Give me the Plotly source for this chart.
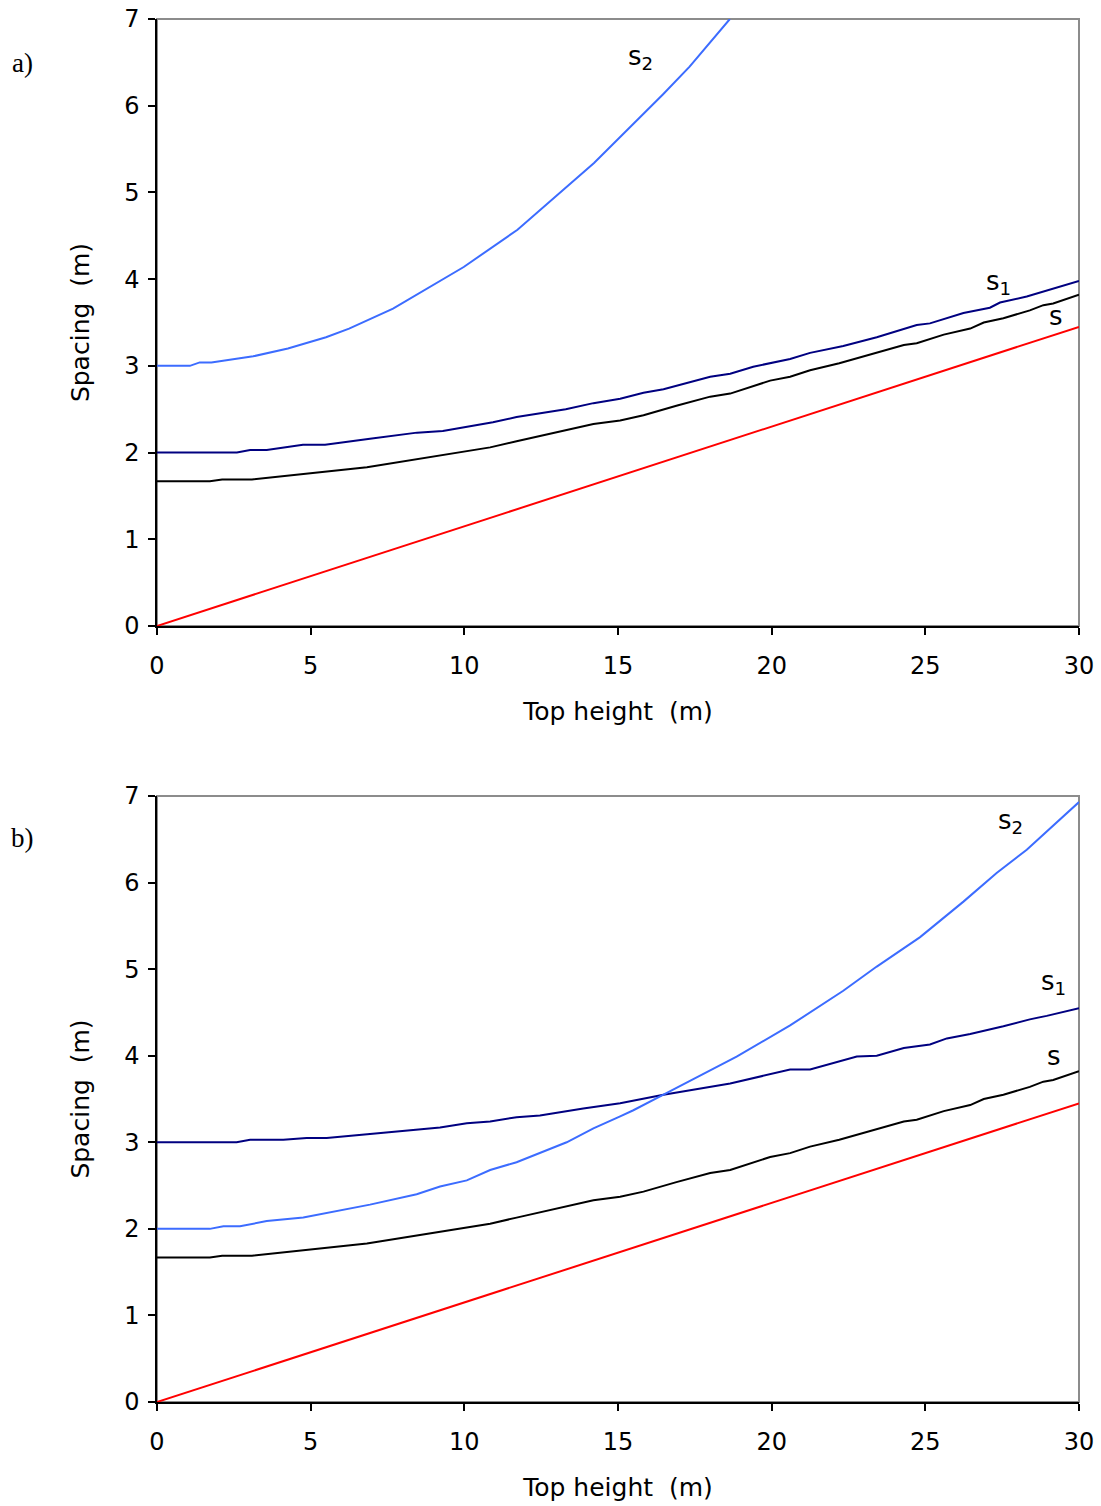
import plotly.graph_objects as go

# ---- data -------------------------------------------------------------
# s : common curve (same in both panels)
h_s = [0, 1.72, 2.12, 3.09, 6.83, 10.84, 11.7, 14.2, 15.07, 15.83, 16.9, 18.0,
       18.65, 19.95, 20.6, 21.25, 22.2, 23.0, 24.3, 24.72, 25.6, 26.46, 26.9,
       27.54, 28.4, 28.84, 29.16, 30]
s_vals = [1.67, 1.67, 1.69, 1.69, 1.83, 2.06, 2.13, 2.33, 2.37, 2.43, 2.54, 2.645,
          2.68, 2.83, 2.875, 2.95, 3.03, 3.11, 3.24, 3.26, 3.36, 3.43, 3.50,
          3.55, 3.64, 3.70, 3.72, 3.82]

# straight reference line
h_line = [0, 30]
line_vals = [0, 3.45]

# panel a)
h_s1_a = [0, 2.6, 3.03, 3.57, 4.75, 5.47, 6.93, 8.46, 9.3, 10.93, 11.7, 13.3,
          14.2, 15.07, 15.83, 16.48, 18.0, 18.65, 19.4, 20.6, 21.25, 22.33,
          23.42, 24.72, 25.15, 26.24, 27.1, 27.43, 28.3, 29.06, 30]
s1_a = [2.0, 2.0, 2.03, 2.03, 2.09, 2.09, 2.16, 2.23, 2.25, 2.35, 2.41, 2.50,
        2.57, 2.62, 2.69, 2.73, 2.875, 2.91, 2.99, 3.08, 3.15, 3.23,
        3.33, 3.47, 3.49, 3.61, 3.67, 3.73, 3.80, 3.88, 3.98]

h_s2_a = [0, 1.07, 1.39, 1.77, 3.13, 4.26, 5.5, 6.25, 7.68, 9.98, 11.73, 14.22,
          16.46, 17.33, 18.64]
s2_a = [3.0, 3.0, 3.04, 3.04, 3.11, 3.20, 3.33, 3.43, 3.66, 4.14, 4.57, 5.34,
        6.13, 6.45, 7.0]

# panel b)
h_s1_b = [0, 2.59, 3.03, 4.11, 4.87, 5.52, 7.37, 9.21, 10.08, 10.84, 11.7, 12.46,
          13.87, 15.07, 16.48, 18.65, 20.6, 21.25, 22.77, 23.42, 24.3, 25.15,
          25.7, 26.46, 27.54, 28.4, 28.95, 30]
s1_b = [3.0, 3.0, 3.03, 3.03, 3.05, 3.05, 3.11, 3.17, 3.22, 3.24, 3.29, 3.31,
        3.39, 3.45, 3.55, 3.68, 3.84, 3.84, 3.99, 4.0, 4.09, 4.13,
        4.20, 4.25, 4.34, 4.42, 4.46, 4.55]

h_s2_b = [0, 1.72, 2.16, 2.70, 3.57, 4.76, 6.93, 8.45, 9.21, 10.08, 10.84, 11.7,
          13.33, 14.2, 15.07, 15.5, 16.48, 17.56, 18.86, 20.6, 22.33, 23.42,
          24.83, 26.24, 26.78, 27.32, 28.3, 29.06, 30]
s2_b = [2.0, 2.0, 2.03, 2.03, 2.09, 2.13, 2.28, 2.40, 2.49, 2.56, 2.68, 2.77,
        3.00, 3.16, 3.30, 3.37, 3.55, 3.75, 3.99, 4.35, 4.75, 5.03,
        5.37, 5.78, 5.95, 6.11, 6.38, 6.63, 6.93]

x_ticks = [0, 5, 10, 15, 20, 25, 30]
y_ticks = [0, 1, 2, 3, 4, 5, 6, 7]

# curve label positions (panel, text, x, y)
curve_labels = [
    ("a", "s<sub>2</sub>", 15.72, 6.56),
    ("a", "s<sub>1</sub>", 27.37, 3.96),
    ("a", "s", 29.25, 3.58),
    ("b", "s<sub>2</sub>", 27.76, 6.71),
    ("b", "s<sub>1</sub>", 29.16, 4.84),
    ("b", "s", 29.19, 4.0),
]

# ---- styling -------------------------------------------------------------
C_S = "#000000"
C_S1 = "#000080"
C_S2 = "#3c6cff"
C_LINE = "#ff0000"
FONT = "DejaVu Sans"

fig = go.Figure()

panels = {"a": ("x", "y"), "b": ("x2", "y2")}
panel_series = {
    "a": [(h_line, line_vals, C_LINE), (h_s, s_vals, C_S),
          (h_s1_a, s1_a, C_S1), (h_s2_a, s2_a, C_S2)],
    "b": [(h_line, line_vals, C_LINE), (h_s, s_vals, C_S),
          (h_s1_b, s1_b, C_S1), (h_s2_b, s2_b, C_S2)],
}

for key, (xa, ya) in panels.items():
    for hx, vy, col in panel_series[key]:
        fig.add_trace(go.Scatter(x=hx, y=vy, mode="lines", xaxis=xa, yaxis=ya,
                                 line=dict(color=col, width=2),
                                 showlegend=False, hoverinfo="skip"))
    # grey frame around the plotting area
    fig.add_shape(type="rect", xref=xa + " domain", yref=ya + " domain",
                  x0=0, x1=1, y0=0, y1=1,
                  line=dict(color="#8c8c8c", width=2), layer="below")

for key, txt, lx, ly in curve_labels:
    xa, ya = panels[key]
    fig.add_annotation(x=lx, y=ly, xref=xa, yref=ya, text=txt, showarrow=False,
                       xanchor="center", yanchor="middle",
                       font=dict(family=FONT, size=26, color="black"))

W, H = 1101, 1506
ML, MR, MT, MB = 157, 22, 19, 104
PW = W - ML - MR
PH = H - MT - MB
top_dom = [(1402 - 626) / PH, 1.0]
bot_dom = [0.0, (1402 - 796) / PH]

# panel letters, positioned in pixels and converted to paper fractions
for letter, py in (("a)", 63), ("b)", 838)):
    fig.add_annotation(x=(22 - ML) / PW, y=(H - MB - py) / PH,
                       xref="paper", yref="paper", text=letter, showarrow=False,
                       xanchor="center", yanchor="middle",
                       font=dict(family="Liberation Serif", size=27, color="black"))

TITLE_FONT = dict(family=FONT, size=25, color="black")
TICK_FONT = dict(family=FONT, size=24, color="black")


def xaxis(anchor):
    return dict(anchor=anchor, range=[0, 30], tickvals=x_ticks, showgrid=False,
                zeroline=False, showline=True, linecolor="black", linewidth=1.5,
                ticks="outside", ticklen=7, tickcolor="black", tickwidth=1.5,
                tickfont=TICK_FONT, ticklabelstandoff=10, automargin=False,
                title=dict(text="Top height&nbsp; (m)", standoff=24, font=TITLE_FONT))


def yaxis(anchor, domain):
    return dict(anchor=anchor, domain=domain, range=[0, 7], tickvals=y_ticks,
                showgrid=False, zeroline=False, showline=True, linecolor="black",
                linewidth=1.5, ticks="outside", ticklen=7, tickcolor="black",
                tickwidth=1.5, tickfont=TICK_FONT, ticklabelstandoff=4,
                automargin=False,
                title=dict(text="Spacing&nbsp; (m)", standoff=27, font=TITLE_FONT))


fig.update_layout(
    width=W, height=H,
    margin=dict(l=ML, r=MR, t=MT, b=MB, autoexpand=False),
    paper_bgcolor="white", plot_bgcolor="white",
    xaxis=xaxis("y"),
    yaxis=yaxis("x", top_dom),
    xaxis2=xaxis("y2"),
    yaxis2=yaxis("x2", bot_dom),
    showlegend=False,
)

fig.write_html("out.html")
